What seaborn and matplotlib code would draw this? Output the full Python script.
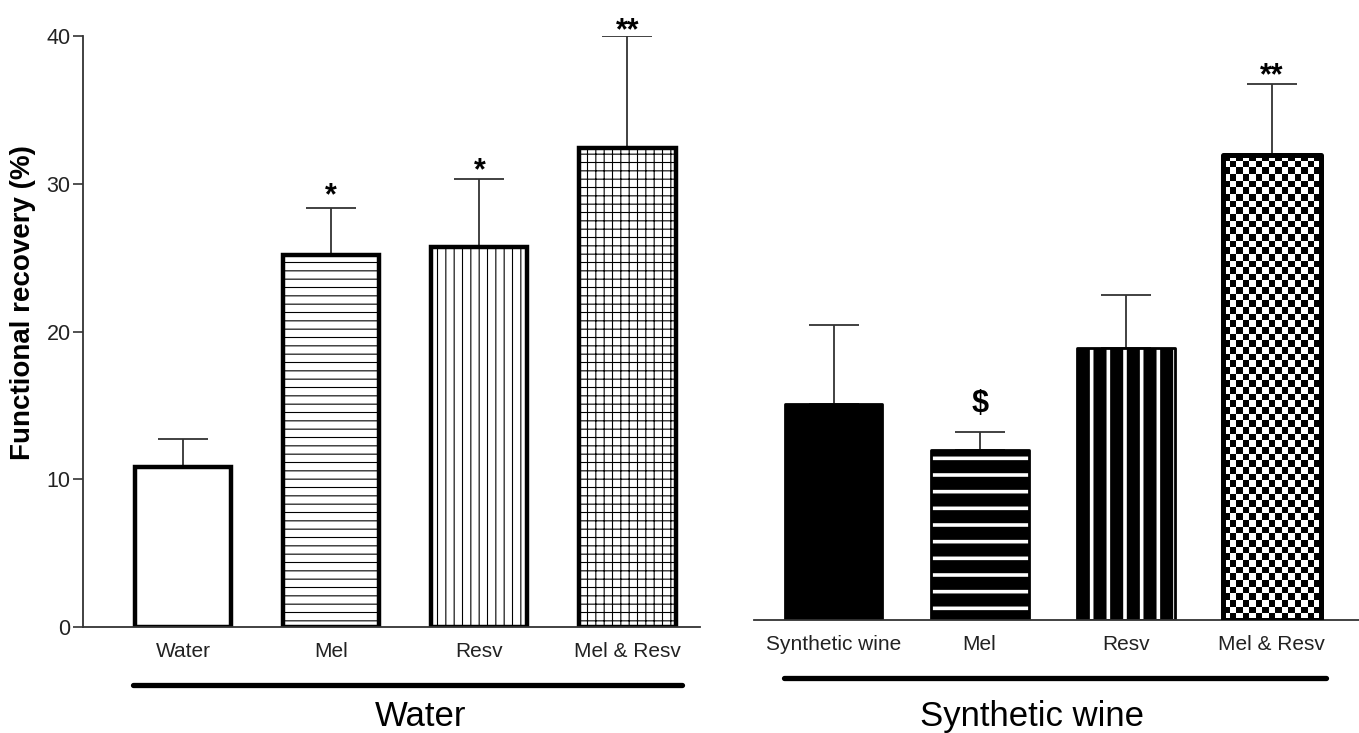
import numpy as np
import matplotlib
matplotlib.use("Agg")
import matplotlib.pyplot as plt
import matplotlib.colors as mcolors
import seaborn as sns

# ---- data -------------------------------------------------------------
water_groups = ["Water", "Mel", "Resv", "Mel & Resv"]
water_means = [10.8, 25.2, 25.7, 32.4]
water_sem = [1.9, 3.2, 4.6, 7.6]
water_marks = ["", "*", "*", "**"]

wine_groups = ["Synthetic wine", "Mel", "Resv", "Mel & Resv"]
wine_means = [14.6, 11.5, 18.4, 31.5]
wine_sem = [5.4, 1.2, 3.6, 4.8]
wine_marks = ["", "$", "", "**"]

y_ticks = [0, 10, 20, 30, 40]
panel_titles = ["Water", "Synthetic wine"]
y_label = "Functional recovery (%)"

# ---- style ------------------------------------------------------------
sns.set_theme(style="ticks")
plt.rcParams["font.family"] = ["Liberation Sans", "DejaVu Sans"]
plt.rcParams["hatch.linewidth"] = 0.8

INK = "#222222"
AXC = "#333333"

fig = plt.figure(figsize=(13.59, 7.33), dpi=100)
ax_w = fig.add_axes([0.0611, 0.1446, 0.454, 0.806])
ax_s = fig.add_axes([0.5548, 0.1542, 0.445, 0.806])


def set_hatch_style(p, color, lw):
    if hasattr(p, "set_hatchcolor"):
        p.set_hatchcolor(color)
    else:
        p._hatch_color = mcolors.to_rgba(color)
    if hasattr(p, "set_hatch_linewidth"):
        p.set_hatch_linewidth(lw)
    else:
        p._hatch_linewidth = lw


def draw_errors(ax, means, sems):
    ax.errorbar(range(len(means)), means, yerr=[np.zeros(len(means)), sems],
                fmt="none", ecolor=AXC, elinewidth=1.3, capsize=18,
                capthick=1.3, zorder=1)


def draw_marks(ax, means, sems, marks, offsets):
    # significance symbols sit just above each error-bar cap
    for i, (m, s, t, off) in enumerate(zip(means, sems, marks, offsets)):
        if t:
            ax.annotate(t, (i, m + s), xytext=(0, off),
                        textcoords="offset points", ha="center", va="bottom",
                        fontsize=22, fontweight="bold", color="black",
                        annotation_clip=False)


# ---- left panel: water -----------------------------------------------
sns.barplot(x=water_groups, y=water_means, ax=ax_w, color="white",
            saturation=1, errorbar=None, width=0.65, zorder=2)
ax_w.set_xlim(-0.676, 3.49)
ax_w.set_ylim(0, 40)
left_hatches = [None, "--", "||", "++"]
for p, h in zip(ax_w.patches, left_hatches):
    p.set_facecolor("white")
    p.set_edgecolor("black")
    p.set_linewidth(3.2)
    p.set_joinstyle("miter")
    if h:
        p.set_hatch(h)
        set_hatch_style(p, "black", 0.8)
draw_errors(ax_w, water_means, water_sem)
draw_marks(ax_w, water_means, water_sem, water_marks, [0, -3, -5, -7])

ax_w.set_yticks(y_ticks)
ax_w.tick_params(axis="y", length=7, width=1.2, color=AXC, pad=2,
                 labelsize=15.5, labelcolor=INK)
ax_w.tick_params(axis="x", length=0, pad=11, labelsize=15, labelcolor=INK)
for side in ["top", "right"]:
    ax_w.spines[side].set_visible(False)
for side in ["left", "bottom"]:
    ax_w.spines[side].set_color(AXC)
    ax_w.spines[side].set_linewidth(1.3)
ax_w.set_xlabel("")
ax_w.set_ylabel(y_label, fontsize=20, fontweight="bold", color="black")
ax_w.yaxis.set_label_coords(-0.077, 0.55)

# ---- right panel: synthetic wine -----------------------------------
sns.barplot(x=wine_groups, y=wine_means, ax=ax_s, color="black",
            saturation=1, errorbar=None, width=0.67, zorder=2)
ax_s.set_xlim(-0.545, 3.596)
ax_s.set_ylim(0, 40)
right_hatches = [None, "-", "|", None]
for p, h in zip(ax_s.patches, right_hatches):
    p.set_facecolor("black")
    p.set_edgecolor("black")
    p.set_linewidth(2)
    p.set_joinstyle("round")
    if h:
        p.set_hatch(h)
        set_hatch_style(p, "white", 2.6)

# checkerboard fill for the combined-treatment bar
chk = ax_s.patches[3]
x0, y0 = chk.get_x(), chk.get_y()
w, h = chk.get_width(), chk.get_height()
(px0, py0), (px1, py1) = ax_s.transData.transform([(x0, y0), (x0 + w, y0 + h)])
nx = max(1, int(round(abs(px1 - px0) / 6.6)))
ny = max(1, int(round(abs(py1 - py0) / 6.6)))
board = np.add.outer(np.arange(ny), np.arange(nx)) % 2
im = ax_s.imshow(board, cmap="gray", vmin=0, vmax=1, extent=[x0, x0 + w, y0, y0 + h],
                 aspect="auto", interpolation="nearest", zorder=2)
im.set_clip_path(chk)
chk.set_facecolor("none")
chk.set_linewidth(3.6)
chk.set_zorder(3)
ax_s.set_xlim(-0.545, 3.596)
ax_s.set_ylim(0, 40)

draw_errors(ax_s, wine_means, wine_sem)
draw_marks(ax_s, wine_means, wine_sem, wine_marks, [0, 10, 0, -5])

ax_s.set_yticks([])
ax_s.tick_params(axis="x", length=0, pad=11, labelsize=15, labelcolor=INK)
for side in ["top", "right", "left"]:
    ax_s.spines[side].set_visible(False)
ax_s.spines["bottom"].set_color(AXC)
ax_s.spines["bottom"].set_linewidth(1.3)
ax_s.set_xlabel("")
ax_s.set_ylabel("")

# ---- group brackets and titles under each panel ---------------------
for ax, title, tx, ty in [(ax_w, panel_titles[0], 1.60, -0.151),
                          (ax_s, panel_titles[1], 1.36, -0.164)]:
    tr = ax.get_xaxis_transform()
    ax.plot([-0.34, 3.37], [-0.098, -0.098], transform=tr, color="black",
            lw=3.8, solid_capstyle="round", clip_on=False)
    ax.text(tx, ty, title, transform=tr, ha="center", va="center",
            fontsize=25, color="black")

fig.savefig("out.png", dpi=100)
